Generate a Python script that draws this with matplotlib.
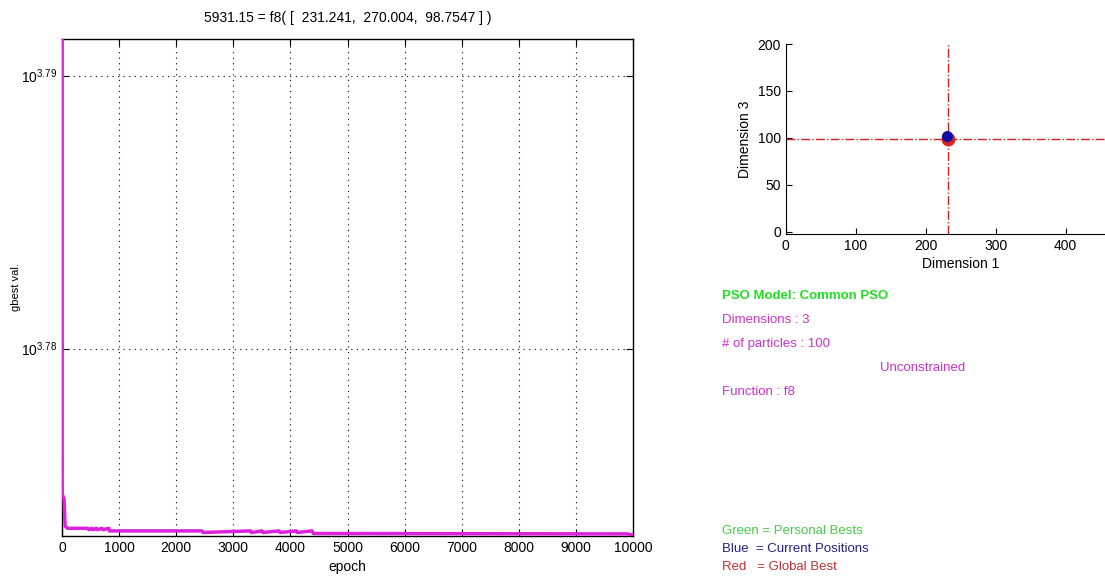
import matplotlib
matplotlib.use("Agg")
import matplotlib.pyplot as plt
from matplotlib.ticker import NullLocator

plt.rcParams["font.family"] = ["Liberation Sans", "DejaVu Sans"]
plt.rcParams["mathtext.fontset"] = "custom"
plt.rcParams["mathtext.rm"] = "Liberation Sans"

# gbest value per epoch
epochs = [0, 3, 35, 55, 100, 450, 470, 520, 540, 600, 620, 700, 720, 820, 830,
          2450, 2470, 3300, 3320, 3500, 3520, 3800, 3820, 4100, 4120, 4380, 4400, 9900, 10000]
gbest = [6400, 5952, 5950, 5936, 5935.0, 5935.0, 5934.3, 5935.0, 5934.3, 5935.0, 5934.3,
         5935.0, 5934.3, 5935.0, 5933.7, 5933.7, 5932.9, 5933.7, 5932.9, 5933.7, 5932.9,
         5933.7, 5932.9, 5933.7, 5932.9, 5933.7, 5932.4, 5932.2, 5931.6]
best_val = 5931.15
best_pos = [231.241, 270.004, 98.7547]

# particle positions, dimension 1 vs dimension 3
current_d1 = [231.0]
current_d3 = [101.5]

fig = plt.figure(figsize=(11.05, 5.85), dpi=100)

ax = fig.add_axes([62 / 1105, 49 / 585, 571 / 1105, 497 / 585])
ax.plot(epochs, gbest, color="#dd22dd", linewidth=2.5, zorder=3)
ax.set_yscale("log")
ax.set_xlim(0, 10000)
ax.set_ylim(best_val, 10 ** 3.79134)
ax.set_xticks(range(0, 10001, 1000))
ax.set_yticks([10 ** 3.78, 10 ** 3.79])
ax.set_yticklabels([r"$10^{3.78}$", r"$10^{3.79}$"])
ax.yaxis.set_minor_locator(NullLocator())
ax.grid(True, color="black", linestyle=(0, (1, 4)), linewidth=0.8)
ax.tick_params(direction="in", top=True, right=True, length=5, labelsize=10)
for s in ax.spines.values():
    s.set_linewidth(1.0)
ax.set_xlabel("epoch", fontsize=10, labelpad=4)
ax.set_ylabel("gbest val.", fontsize=8)
ax.yaxis.set_label_coords(-0.072, 0.5)
ax.set_title("5931.15 = f8( [  231.241,  270.004,  98.7547 ] )", fontsize=10, pad=12)

ax2 = fig.add_axes([785.7 / 1105, 351 / 585, 350 / 1105, 190 / 585])
ax2.set_xlim(0, 500)
ax2.set_ylim(-2.5, 200)
ax2.axvline(best_pos[0], color="#cc2222", linestyle="-.", linewidth=1)
ax2.axhline(best_pos[2], color="#cc2222", linestyle="-.", linewidth=1)
ax2.plot([best_pos[0]], [best_pos[2]], "o", color="#dd2222", markersize=9)
ax2.plot(current_d1, current_d3, "o", color="#1010a0", markersize=7)
ax2.set_xticks(range(0, 401, 100))
ax2.set_yticks(range(0, 201, 50))
ax2.spines["top"].set_visible(False)
ax2.spines["right"].set_visible(False)
ax2.tick_params(direction="in", length=4, labelsize=10)
ax2.set_xlabel("Dimension 1", fontsize=10, labelpad=3)
ax2.set_ylabel("Dimension 3", fontsize=10, labelpad=4)

info = [
    ("PSO Model: Common PSO", 722, 296, "#22dd22", "bold"),
    ("Dimensions : 3", 722, 320, "#cc33cc", "normal"),
    ("# of particles : 100", 722, 344, "#cc33cc", "normal"),
    ("Unconstrained", 880, 368, "#cc33cc", "normal"),
    ("Function : f8", 722, 392, "#cc33cc", "normal"),
    ("Green = Personal Bests", 722, 531, "#44cc44", "normal"),
    ("Blue  = Current Positions", 722, 549, "#222288", "normal"),
    ("Red   = Global Best", 722, 567, "#bb3333", "normal"),
]
for text, x, y, color, weight in info:
    fig.text(x / 1105, 1 - y / 585, text, color=color, fontsize=9.5, fontweight=weight,
             va="center", ha="left")

fig.savefig("out.png", dpi=100, facecolor="white")
plt.close(fig)
